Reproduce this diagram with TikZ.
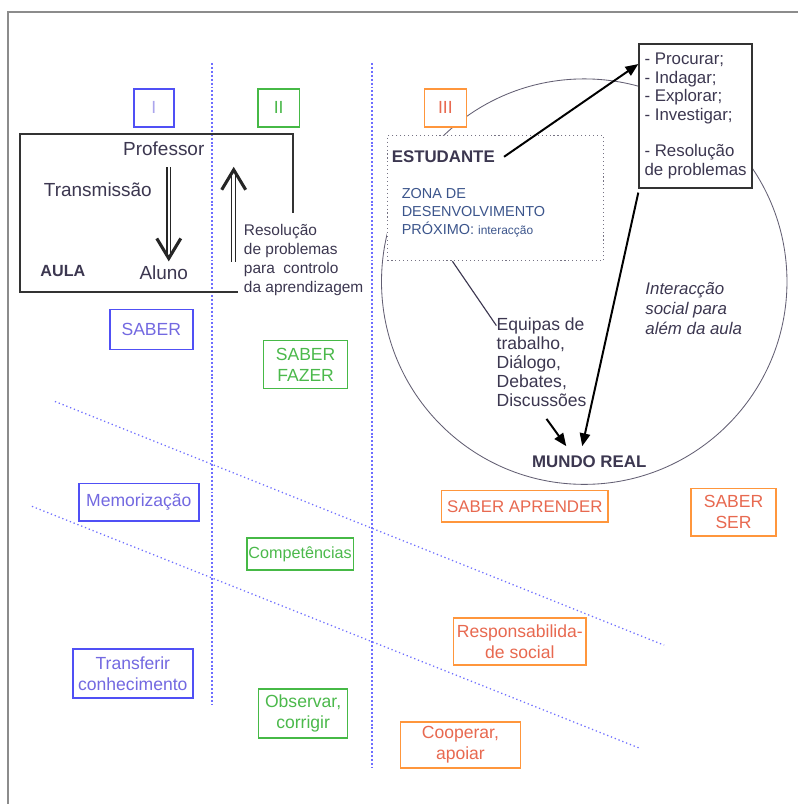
\documentclass[tikz,border=0pt]{standalone}
\usepackage{fontspec}
\setmainfont{Liberation Sans}
\usepackage{tikz}
\usetikzlibrary{arrows.meta, positioning}
\definecolor{zoneblue}{RGB}{80,80,245}
\definecolor{zonegreen}{RGB}{70,185,70}
\definecolor{zoneorange}{RGB}{255,150,60}
\definecolor{inkblue}{RGB}{115,105,225}
\definecolor{inkgreen}{RGB}{75,185,75}
\definecolor{inkorange}{RGB}{232,105,80}
\definecolor{ink}{RGB}{60,55,80}
\definecolor{zonetext}{RGB}{60,85,140}
\definecolor{framegray}{RGB}{140,140,140}
\definecolor{dotblue}{RGB}{110,110,255}

\begin{document}
\begin{tikzpicture}[
    x=0.025cm, y=-0.025cm,
    >={Triangle[length=0.32cm, width=0.26cm]},
    every node/.style={inner sep=0pt, font=\fontsize{12.5}{15}\selectfont},
    cell/.style={draw, line width=1.2pt, fill=white, align=center},
    bluecell/.style={cell, draw=zoneblue, text=inkblue},
    greencell/.style={cell, draw=zonegreen, text=inkgreen},
    orangecell/.style={cell, draw=zoneorange, text=inkorange},
    note/.style={text=ink, align=left},
    divider/.style={draw=dotblue, line width=0.9pt, dash pattern=on 0.9pt off 2pt},
    pair/.style={draw=black!85, double=white, line width=0.8pt, double distance=1.8pt,
        -{Straight Barb[length=0.5cm, width=0.6cm, line width=2.2pt]}}
]
    % background and frame
    \fill[white] (0,0) rectangle (799,805);
    \draw[framegray, line width=1.5pt] (8,805) -- (8,12) -- (799,12);

    % zone dividers
    \draw[divider, line width=0.8pt, dash pattern=on 1.4pt off 1.4pt] (212.3,63) -- (212.3,706);
    \draw[divider, line width=0.8pt, dash pattern=on 1.4pt off 1.4pt] (372.5,63) -- (372.5,768);
    \draw[divider] (55,402) -- (665,646);
    \draw[divider] (32,507) -- (640,749);

    % real world
    \draw[ink!80, line width=0.6pt] (585,282) circle [radius=203];

    % classroom
    \draw[black!80, line width=1.5pt] (238,292) -- (20,292) -- (20,134) -- (293,134) -- (293,213);

    \node[bluecell, text=inkblue!60, minimum width=1cm, minimum height=0.95cm] (zoneI) at (154,108) {I};
    \node[greencell, minimum width=1.05cm, minimum height=0.95cm] (zoneII) at (279,108) {II};
    \node[orangecell, minimum width=1.05cm, minimum height=0.95cm] (zoneIII) at (446,108) {III};

    \node[text=ink, font=\fontsize{13.5}{16}\selectfont] (prof) at (164,149) {Professor};
    \node[text=ink, font=\fontsize{13.5}{16}\selectfont] (trans) at (98,190) {Transmissão};
    \node[text=ink, font=\bfseries\fontsize{11.5}{14}\selectfont] (aula) at (63,271) {AULA};
    \node[text=ink, font=\fontsize{13.5}{16}\selectfont] (aluno) at (164,273) {Aluno};
    \node[note, anchor=north west, font=\fontsize{11}{13.5}\selectfont] (resol) at (244,224)
        {Resolução\\de problemas\\para~ controlo\\da aprendizagem};
    \coordinate (climb0) at (234,262);
    \coordinate (climb1) at (234,167);

    \draw[pair] ([xshift=0.125cm, yshift=-0.275cm]prof.south) -- ([xshift=0.125cm, yshift=0.1cm]aluno.north);
    \draw[pair] (climb0) -- (climb1);

    % student zone
    \node[draw=ink!70, dotted, line width=0.8pt, fill=white, minimum width=5.4cm, minimum height=3.125cm] (zdp) at (496,198.5) {};
    \node[note, anchor=west, font=\bfseries\fontsize{12}{14}\selectfont] (estudante) at (392,157) {ESTUDANTE};
    \node[note, text=zonetext, anchor=north west, font=\fontsize{10.3}{12.8}\selectfont] (zona) at (402,188)
        {ZONA DE\\DESENVOLVIMENTO\\PRÓXIMO: {\fontsize{8.5}{10}\selectfont interacção}};

    \node[cell, draw=black!80, align=left, text=ink, minimum width=2.825cm, minimum height=3.6cm,
        font=\fontsize{12}{13.5}\selectfont] (tasks) at (696.5,116)
        {- Procurar;\\- Indagar;\\- Explorar;\\- Investigar;\\[12pt]- Resolução\\de problemas};

    \node[note, anchor=north west, font=\itshape\fontsize{12}{14.2}\selectfont] (social) at (646,283)
        {Interacção\\social para\\além da aula};
    \node[note, anchor=north west, font=\fontsize{12.5}{13.5}\selectfont] (equipas) at (497,318)
        {Equipas de\\trabalho,\\Diálogo,\\Debates,\\Discussões};
    \node[text=ink, font=\bfseries\fontsize{12}{14}\selectfont] (mundo) at (590,462) {MUNDO REAL};

    \draw[line width=1.4pt, ->] ([xshift=0.225cm]estudante.east) -- ([yshift=-0.525cm]tasks.north west);
    \draw[line width=1.4pt, ->] ([yshift=-0.1cm]tasks.south west) -- ([xshift=-0.175cm, yshift=0.225cm]mundo.north);
    \draw[line width=1.4pt, ->] ([xshift=0.125cm, yshift=-0.3cm]equipas.south) -- ([xshift=-0.575cm, yshift=0.225cm]mundo.north);
    \draw[ink, line width=0.8pt] ([xshift=-1.075cm]zdp.south) -- ([yshift=-0.2cm]equipas.north west);

    % knowledge boxes
    \node[bluecell, minimum width=2.075cm, minimum height=1cm] (saber) at (151.5,330) {SABER};
    \node[bluecell, minimum width=3cm, minimum height=0.95cm] (memo) at (139,503) {Memorização};
    \node[bluecell, minimum width=3cm, minimum height=1.225cm] (transf) at (133,674.5) {Transferir\\conhecimento};

    \node[greencell, minimum width=2.1cm, minimum height=1.2cm] (fazer) at (306,365) {SABER\\FAZER};
    \node[greencell, minimum width=2.675cm, minimum height=0.8cm, font=\fontsize{11.5}{14}\selectfont] (compet) at (300.5,555) {Competências};
    \node[greencell, minimum width=2.225cm, minimum height=1.225cm] (observ) at (303.5,714.5) {Observar,\\corrigir};

    \node[orangecell, minimum width=4.175cm, minimum height=0.8cm, font=\fontsize{12}{14}\selectfont] (aprender) at (525.5,507) {SABER APRENDER};
    \node[orangecell, minimum width=2.125cm, minimum height=1.2cm] (ser) at (734.5,513) {SABER\\SER};
    \node[orangecell, minimum width=3.325cm, minimum height=1.175cm] (resp) at (520.5,642.5) {Responsabilida-\\de social};
    \node[orangecell, minimum width=3cm, minimum height=1.15cm] (coop) at (461,746) {Cooperar,\\apoiar};
\end{tikzpicture}
\end{document}
